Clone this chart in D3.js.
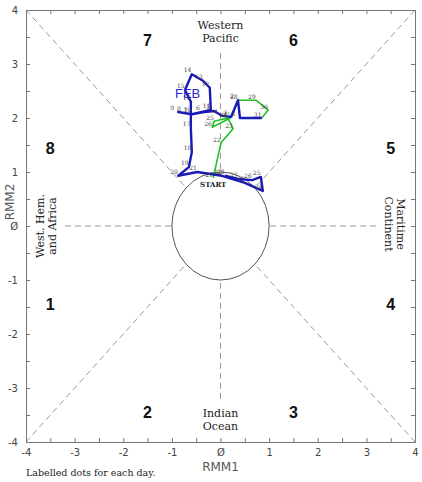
<!DOCTYPE html>
<html lang="en">
<head>
  <script src="https://d3js.org/d3.v7.min.js"></script>
  <style>
    body { margin: 0; background: #fff; }
  </style>
</head>
<body>
<script>
  // RMM phase diagram: Jan (green) then Feb (blue)
  const janDays = [21, 22, 23, 24, 25, 26, 27, 28, 29, 30, 31];
  const janRmm1 = [-0.15, 0.01, 0.26, 0.15, -0.13, -0.17, 0.20, 0.36, 0.73, 0.98, 0.85];
  const janRmm2 = [0.89, 1.54, 1.80, 2.00, 1.94, 1.83, 2.00, 2.33, 2.33, 2.15, 2.00];

  const febDays = d3.range(1, 29);
  const febRmm1 = [0.40, 0.36, 0.22, 0.03, -0.13, -0.34, -0.59, -0.73, -0.87, -0.59,
                   -0.20, -0.22, -0.36, -0.59, -0.73, -0.61, -0.61, -0.59, -0.65, -0.87,
                   -0.48, 0.03, 0.50, 0.87, 0.83, 0.65, 0.36, 0.09];
  const febRmm2 = [2.00, 2.33, 2.02, 2.04, 2.13, 2.11, 2.07, 2.09, 2.11, 2.07,
                   2.15, 2.56, 2.69, 2.81, 2.52, 2.30, 1.81, 1.37, 1.09, 0.93,
                   1.00, 0.93, 0.80, 0.65, 0.91, 0.85, 0.87, 0.93];

  const tickValues = d3.range(-4, 4.01, 0.5);
  const phases = [1, 2, 3, 4, 5, 6, 7, 8];

  const width = 422, height = 482;
  const svg = d3.select("body").append("svg")
    .attr("width", width).attr("height", height);

  const x = d3.scaleLinear().domain([-4, 4]).range([26, 415]);
  const y = d3.scaleLinear().domain([-4, 4]).range([442, 10]);

  const fmt = d => Number.isInteger(d) ? (d === 0 ? "\u00D8" : String(d)) : "";

  // dashed phase dividers
  const dash = svg.append("g")
    .attr("stroke", "#999").attr("stroke-width", 1)
    .attr("stroke-dasharray", "6,4").attr("fill", "none");
  const c = Math.SQRT1_2;
  [[-4, -4], [4, 4], [-4, 4], [4, -4]].forEach(function(p) {
    dash.append("line")
      .attr("x1", x(p[0])).attr("y1", y(p[1]))
      .attr("x2", x(Math.sign(p[0]) * c)).attr("y2", y(Math.sign(p[1]) * c));
  });
  [[0, 3.2, 0, 1], [0, -3.2, 0, -1], [-3.2, 0, -1, 0], [3.2, 0, 1, 0]].forEach(function(l) {
    dash.append("line")
      .attr("x1", x(l[0])).attr("y1", y(l[1]))
      .attr("x2", x(l[2])).attr("y2", y(l[3]));
  });

  // unit circle
  svg.append("ellipse")
    .attr("cx", x(0)).attr("cy", y(0))
    .attr("rx", x(1) - x(0)).attr("ry", y(0) - y(1))
    .attr("fill", "none").attr("stroke", "#555").attr("stroke-width", 1);

  // axes
  const axisStyle = function(g) {
    g.selectAll("path, line").attr("stroke", "#777");
    g.selectAll("text").attr("fill", "#444")
      .attr("font-family", "DejaVu Sans, sans-serif").attr("font-size", 10);
  };
  svg.append("g").attr("transform", "translate(0," + y(-4) + ")")
    .call(d3.axisBottom(x).tickValues(tickValues).tickFormat(fmt)
      .tickSizeInner(-4).tickSizeOuter(0).tickPadding(7))
    .call(axisStyle);
  svg.append("g").attr("transform", "translate(0," + y(4) + ")")
    .call(d3.axisTop(x).tickValues(tickValues).tickFormat("")
      .tickSizeInner(-4).tickSizeOuter(0))
    .call(axisStyle);
  svg.append("g").attr("transform", "translate(" + x(-4) + ",0)")
    .call(d3.axisLeft(y).tickValues(tickValues).tickFormat(fmt)
      .tickSizeInner(-4).tickSizeOuter(0).tickPadding(8))
    .call(axisStyle);
  svg.append("g").attr("transform", "translate(" + x(4) + ",0)")
    .call(d3.axisRight(y).tickValues(tickValues).tickFormat("")
      .tickSizeInner(-4).tickSizeOuter(0))
    .call(axisStyle);

  // axis titles
  svg.append("text").attr("x", x(0)).attr("y", 471)
    .attr("text-anchor", "middle").attr("font-family", "DejaVu Sans, sans-serif")
    .attr("font-size", 12).attr("fill", "#555").text("RMM1");
  svg.append("text").attr("transform", "translate(14,202) rotate(-90)")
    .attr("text-anchor", "middle").attr("font-family", "DejaVu Sans, sans-serif")
    .attr("font-size", 12).attr("fill", "#555").text("RMM2");

  // phase numbers
  const phasePos = {1: [-3.5, -1.45], 2: [-1.5, -3.45], 3: [1.5, -3.45], 4: [3.5, -1.45],
                    5: [3.5, 1.45], 6: [1.5, 3.45], 7: [-1.5, 3.45], 8: [-3.5, 1.45]};
  svg.append("g").selectAll("text").data(phases).enter().append("text")
    .attr("x", d => x(phasePos[d][0]))
    .attr("y", d => y(phasePos[d][1]) + 6)
    .attr("text-anchor", "middle")
    .attr("font-family", "Liberation Sans, Arial, sans-serif")
    .attr("font-weight", "bold").attr("font-size", 16).attr("fill", "#111")
    .text(d => d);

  // region names
  const serif = "DejaVu Serif, Liberation Serif, serif";
  const region = svg.append("g").attr("font-family", serif)
    .attr("font-size", 11).attr("fill", "#222").attr("text-anchor", "middle");
  region.append("text").attr("x", x(0)).attr("y", 29).text("Western");
  region.append("text").attr("x", x(0)).attr("y", 42).text("Pacific");
  region.append("text").attr("x", x(0)).attr("y", 417).text("Indian");
  region.append("text").attr("x", x(0)).attr("y", 430).text("Ocean");
  region.append("text").attr("transform", "translate(44,226) rotate(-90)").text("West. Hem.");
  region.append("text").attr("transform", "translate(56,226) rotate(-90)").text("and Africa");
  region.append("text").attr("transform", "translate(397,224) rotate(90)").text("Maritime");
  region.append("text").attr("transform", "translate(385,224) rotate(90)").text("Continent");

  // trajectories
  const line = d3.line().x(d => x(d[0])).y(d => y(d[1]));
  const jan = janDays.map((d, i) => [janRmm1[i], janRmm2[i], d]);
  const feb = febDays.map((d, i) => [febRmm1[i], febRmm2[i], d]);

  svg.append("path").datum(jan).attr("d", line)
    .attr("fill", "none").attr("stroke", "#22c022").attr("stroke-width", 1.6)
    .attr("stroke-linejoin", "round");
  svg.append("path").datum([jan[jan.length - 1]].concat(feb)).attr("d", line)
    .attr("fill", "none").attr("stroke", "#1a1ab4").attr("stroke-width", 2.4)
    .attr("stroke-linejoin", "round");

  const lab = svg.append("g").attr("font-family", serif)
    .attr("font-size", 6).attr("fill", "#444");
  lab.selectAll(".jl").data(jan).enter().append("text")
    .attr("x", d => x(d[0]) - 8).attr("y", d => y(d[1]) - 1)
    .text(d => d[2]);
  lab.selectAll(".fl").data(feb).enter().append("text")
    .attr("x", d => x(d[0]) - 8).attr("y", d => y(d[1]) - 2)
    .text(d => d[2]);

  svg.append("text").attr("x", x(-0.73) - 10).attr("y", y(2.52) + 8)
    .attr("font-family", "Liberation Sans, Arial, sans-serif")
    .attr("font-size", 13).attr("fill", "#2a2ad0").text("FEB");

  svg.append("text").attr("x", x(-0.15)).attr("y", y(0.89) + 9)
    .attr("text-anchor", "middle").attr("font-family", serif)
    .attr("font-weight", "bold").attr("font-size", 7).attr("fill", "#222").text("START");

  // notes
  svg.append("text").attr("x", 26).attr("y", 476)
    .attr("font-family", serif).attr("font-size", 9.5).attr("fill", "#222")
    .text("Labelled dots for each day.");
</script>
</body>
</html>
